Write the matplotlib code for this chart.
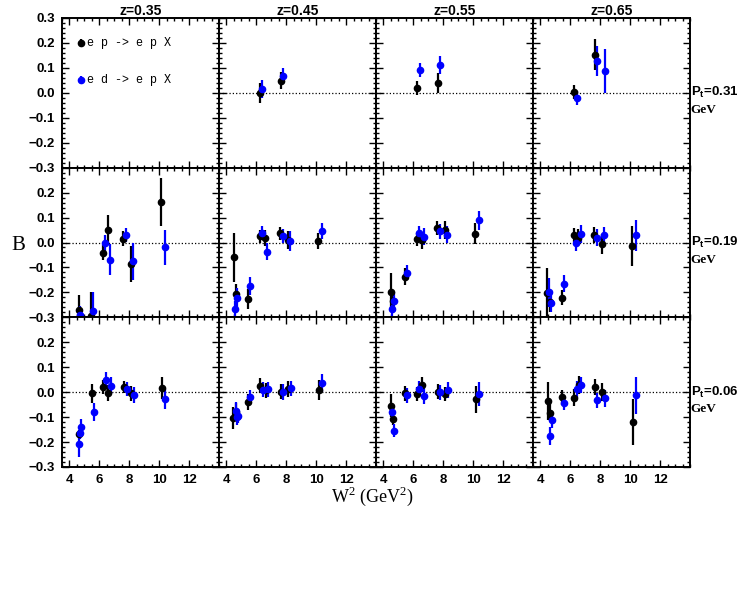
import matplotlib
matplotlib.use('Agg')
import matplotlib.pyplot as plt
from matplotlib.ticker import MultipleLocator

# column and row labels
Z_BINS = ['z=0.35', 'z=0.45', 'z=0.55', 'z=0.65']
PT_BINS = ['0.31', '0.19', '0.06']

# Pt = 0.31 GeV, one sub-list per z bin
EP_PT031_W2 = [[], [6.24, 7.63], [6.26, 7.63], [6.26, 7.65]]
EP_PT031_B = [[], [0.0, 0.049], [0.019, 0.04], [0.003, 0.153]]
EP_PT031_ERR = [[], [0.04, 0.034], [0.028, 0.039], [0.027, 0.062]]
ED_PT031_W2 = [[], [6.40, 7.80], [6.41, 7.79], [6.42, 7.81, 8.34]]
ED_PT031_B = [[], [0.016, 0.067], [0.092, 0.112], [-0.02, 0.127, 0.089]]
ED_PT031_ERR = [[], [0.036, 0.033], [0.028, 0.037], [0.029, 0.06, 0.088]]

# Pt = 0.19 GeV
EP_PT019_W2 = [[4.61, 5.46, 6.23, 6.59, 7.61, 8.10, 10.14],
               [4.50, 4.61, 5.46, 6.23, 6.59, 7.61, 8.10, 10.14],
               [4.50, 4.61, 5.46, 6.23, 6.59, 7.61, 8.10, 10.14],
               [4.46, 4.61, 5.46, 6.23, 6.54, 7.61, 8.10, 10.14]]
EP_PT019_B = [[-0.272, -0.295, -0.042, 0.051, 0.016, -0.087, 0.162],
              [-0.06, -0.207, -0.226, 0.026, 0.018, 0.037, 0.009, 0.005],
              [-0.199, -0.235, -0.138, 0.013, 0.009, 0.057, 0.051, 0.036],
              [-0.203, -0.24, -0.221, 0.03, 0.02, 0.032, -0.005, -0.014]]
EP_PT019_ERR = [[0.062, 0.095, 0.03, 0.059, 0.03, 0.073, 0.096],
                [0.1, 0.04, 0.04, 0.026, 0.033, 0.025, 0.036, 0.033],
                [0.075, 0.03, 0.034, 0.027, 0.034, 0.028, 0.035, 0.044],
                [0.1, 0.04, 0.03, 0.028, 0.035, 0.032, 0.04, 0.079]]
ED_PT019_W2 = [[4.72, 5.59, 6.39, 6.72, 7.79, 8.28, 10.37],
               [4.59, 4.72, 5.59, 6.39, 6.72, 7.79, 8.28, 10.37],
               [4.59, 4.72, 5.59, 6.39, 6.72, 7.79, 8.28, 10.37],
               [4.59, 4.72, 5.59, 6.39, 6.72, 7.79, 8.28, 10.37]]
ED_PT019_B = [[-0.29, -0.275, -0.003, -0.07, 0.029, -0.076, -0.02],
              [-0.268, -0.221, -0.176, 0.039, -0.038, 0.026, 0.007, 0.046],
              [-0.268, -0.234, -0.121, 0.039, 0.024, 0.045, 0.032, 0.089],
              [-0.2, -0.242, -0.166, -0.003, 0.033, 0.02, 0.029, 0.029]]
ED_PT019_ERR = [[0.035, 0.075, 0.032, 0.062, 0.028, 0.075, 0.071],
                [0.035, 0.037, 0.036, 0.029, 0.034, 0.028, 0.04, 0.032],
                [0.035, 0.035, 0.031, 0.029, 0.033, 0.031, 0.036, 0.039],
                [0.058, 0.036, 0.034, 0.03, 0.036, 0.033, 0.035, 0.062]]

# Pt = 0.06 GeV
EP_PT006_W2 = [[4.62, 5.49, 6.26, 6.58, 7.65, 8.12, 10.19],
               [4.46, 4.61, 5.44, 6.24, 6.64, 7.63, 8.12, 10.19],
               [4.48, 4.66, 5.44, 6.22, 6.60, 7.63, 8.14, 10.17],
               [4.53, 4.64, 5.46, 6.26, 6.58, 7.65, 8.12, 10.17]]
EP_PT006_B = [[-0.166, -0.004, 0.022, -0.003, 0.02, -0.005, 0.016],
              [-0.103, -0.08, -0.04, 0.025, 0.008, 0.001, 0.013, 0.008],
              [-0.054, -0.106, -0.005, -0.008, 0.03, 0.001, -0.008, -0.029],
              [-0.036, -0.082, -0.02, -0.022, 0.028, 0.02, 0.001, -0.121]]
EP_PT006_ERR = [[0.015, 0.038, 0.028, 0.033, 0.025, 0.03, 0.045],
                [0.045, 0.035, 0.033, 0.03, 0.03, 0.03, 0.032, 0.041],
                [0.045, 0.025, 0.03, 0.028, 0.031, 0.03, 0.028, 0.053],
                [0.076, 0.034, 0.03, 0.033, 0.035, 0.031, 0.035, 0.092]]
ED_PT006_W2 = [[4.62, 4.68, 4.77, 5.62, 6.42, 6.76, 7.83, 8.34, 10.41],
               [4.62, 4.68, 4.79, 5.60, 6.42, 6.76, 7.78, 8.32, 10.41],
               [4.59, 4.72, 5.59, 6.40, 6.71, 7.78, 8.30, 10.39],
               [4.62, 4.75, 5.60, 6.42, 6.73, 7.80, 8.34, 10.39]]
ED_PT006_B = [[-0.209, -0.165, -0.14, -0.081, 0.048, 0.026, 0.012, -0.011, -0.026],
              [-0.077, -0.1, -0.097, -0.021, 0.009, 0.011, 0.001, 0.015, 0.037],
              [-0.081, -0.154, -0.013, 0.013, -0.017, -0.001, 0.008, -0.008],
              [-0.174, -0.112, -0.042, 0.011, 0.028, -0.033, -0.025, -0.012]]
ED_PT006_ERR = [[0.05, 0.022, 0.033, 0.036, 0.034, 0.033, 0.028, 0.033, 0.04],
                [0.036, 0.03, 0.025, 0.03, 0.03, 0.03, 0.031, 0.03, 0.035],
                [0.03, 0.027, 0.03, 0.03, 0.032, 0.03, 0.033, 0.048],
                [0.036, 0.031, 0.03, 0.034, 0.033, 0.03, 0.035, 0.074]]

rows = [
    (EP_PT031_W2, EP_PT031_B, EP_PT031_ERR, ED_PT031_W2, ED_PT031_B, ED_PT031_ERR),
    (EP_PT019_W2, EP_PT019_B, EP_PT019_ERR, ED_PT019_W2, ED_PT019_B, ED_PT019_ERR),
    (EP_PT006_W2, EP_PT006_B, EP_PT006_ERR, ED_PT006_W2, ED_PT006_B, ED_PT006_ERR),
]

LEGEND_LABELS = ['e p -> e p X', 'e d -> e p X']

plt.rcParams['font.family'] = ['Liberation Sans', 'DejaVu Sans']


def fmt_b(v, pos):
    if abs(v) < 1e-9:
        return '0.0'
    return ('%.1f' % v).replace('-', '\u2212')


W, H = 749, 608
fig, axes = plt.subplots(3, 4, figsize=(W / 100, H / 100), dpi=100,
                         sharex=True, sharey=True)
fig.subplots_adjust(left=62 / W, right=690 / W, top=1 - 18 / H,
                    bottom=1 - 467 / H, wspace=0, hspace=0)

ebkw = dict(fmt='o', ms=4.5, capsize=0, elinewidth=1.6, clip_on=True)

for r, (ep_x, ep_y, ep_e, ed_x, ed_y, ed_e) in enumerate(rows):
    for c in range(4):
        ax = axes[r, c]
        ax.set_xlim(3.5, 14.0)
        ax.set_ylim(-0.3, 0.3)
        if ep_x[c] or ed_x[c]:
            ax.axhline(0, color='black', ls=':', lw=0.9, zorder=1)
        if ep_x[c]:
            ax.errorbar(ep_x[c], ep_y[c], yerr=ep_e[c], color='black', **ebkw)
        if ed_x[c]:
            ax.errorbar(ed_x[c], ed_y[c], yerr=ed_e[c], color='blue', **ebkw)

        ax.set_xticks([4, 6, 8, 10, 12])
        ax.set_yticks([-0.3, -0.2, -0.1, 0.0, 0.1, 0.2, 0.3])
        ax.xaxis.set_minor_locator(MultipleLocator(0.5))
        ax.yaxis.set_minor_locator(MultipleLocator(0.02))
        ax.tick_params(which='both', direction='in', top=True, right=True,
                       width=1.0, labelsize=9.5)
        ax.tick_params(which='major', length=5, pad=5)
        ax.tick_params(which='minor', length=2.5)
        for sp in ax.spines.values():
            sp.set_linewidth(1.4)
        ax.yaxis.set_major_formatter(plt.FuncFormatter(fmt_b))

        if r == 0:
            ax.set_title(Z_BINS[c], fontsize=10, fontweight='bold', pad=2)

    # Pt label at right of last column
    axr = axes[r, 3]
    axr.text(1.005, 0.5, r'P$_\mathregular{t}$=' + PT_BINS[r],
             transform=axr.transAxes, ha='left', va='center',
             fontsize=9.5, fontweight='bold')
    axr.text(1.005, 0.385, 'GeV', transform=axr.transAxes, ha='left',
             va='center', fontsize=9.5, fontweight='bold',
             family=['Liberation Serif', 'DejaVu Serif'])

fig.canvas.draw()
for r in range(3):
    ax = axes[r, 0]
    labs = ax.get_yticklabels()
    for lab in labs:
        lab.set_fontweight('bold')
    # the lower panels' top label sits under the "-0.3" of the panel above
    if r > 0:
        labs[-1].set_visible(False)
for c in range(4):
    for lab in axes[2, c].get_xticklabels():
        lab.set_fontweight('bold')

# legend drawn inside the empty first panel
ax0 = axes[0, 0]
ax0.errorbar([4.77], [0.2], yerr=[0.016], color='black', **ebkw)
ax0.errorbar([4.77], [0.05], yerr=[0.016], color='blue', **ebkw)
ax0.text(5.2, 0.2, LEGEND_LABELS[0], va='center', ha='left', fontsize=8.5,
         family=['Liberation Mono', 'DejaVu Sans Mono'])
ax0.text(5.2, 0.05, LEGEND_LABELS[1], va='center', ha='left', fontsize=8.5,
         family=['Liberation Mono', 'DejaVu Sans Mono'])

fig.text(18 / W, 1 - 245 / H, 'B', fontsize=15, ha='center', va='center',
         family=['Liberation Serif', 'DejaVu Serif'])
fig.text(372 / W, 1 - 496 / H, r'W$^\mathregular{2}$ (GeV$^\mathregular{2}$)',
         fontsize=13, ha='center', va='center',
         family=['Liberation Serif', 'DejaVu Serif'])

fig.savefig('out.png', dpi=100)
